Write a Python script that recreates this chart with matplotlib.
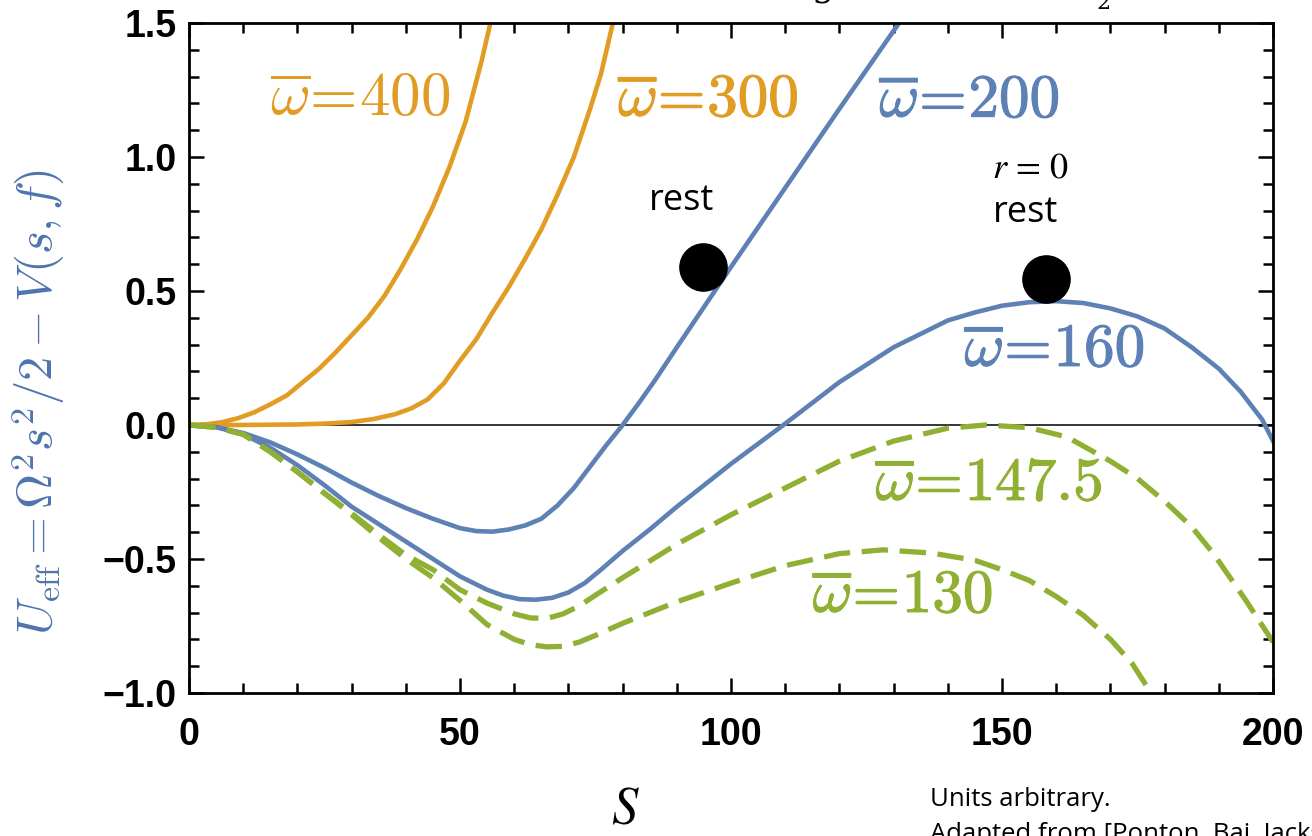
import matplotlib
matplotlib.use("Agg")
import matplotlib.pyplot as plt
import matplotlib.patheffects as pe
from matplotlib.ticker import MultipleLocator

plt.rcParams["mathtext.fontset"] = "cm"

BLUE = "#5E81B5"
ORANGE = "#E19C24"
GREEN = "#8FB032"

# effective potential curves, one (s, U) list per omega-bar value
s_400 = [0, 3, 6, 9, 12, 15, 18, 21, 24, 27, 30, 33, 36, 39, 42, 45, 48, 51, 54, 55.6]
u_400 = [0, 0.002, 0.01, 0.025, 0.047, 0.077, 0.11, 0.16, 0.21, 0.27, 0.335, 0.40, 0.48,
         0.58, 0.69, 0.815, 0.96, 1.13, 1.36, 1.5]

s_300 = [0, 10, 20, 25, 30, 34, 38, 41, 44, 47, 50, 53, 56, 59, 62, 65, 68, 71, 74, 76, 78.2]
u_300 = [0, 0.0, 0.002, 0.005, 0.011, 0.022, 0.04, 0.062, 0.095, 0.155, 0.24, 0.32, 0.42,
         0.515, 0.62, 0.73, 0.86, 1.0, 1.18, 1.31, 1.5]

s_200 = [0, 5, 10, 15, 20, 25, 30, 35, 40, 45, 50, 53, 56, 59, 62, 65, 68, 71, 74, 77, 80,
         83, 86, 90, 100, 110, 120, 131]
u_200 = [0, -0.008, -0.03, -0.065, -0.11, -0.16, -0.215, -0.265, -0.31, -0.35, -0.385, -0.396,
         -0.398, -0.39, -0.375, -0.35, -0.30, -0.235, -0.155, -0.075, 0.0,
         0.082, 0.168, 0.29, 0.59, 0.885, 1.18, 1.5]

s_160 = [0, 5, 10, 15, 20, 25, 30, 35, 40, 45, 50, 55, 58, 61, 64, 67, 70, 73, 76, 80, 85,
         90, 100, 110, 120, 130, 140, 145, 150, 155, 160, 165, 170, 175, 180, 185, 190,
         194, 198, 200]
u_160 = [0, -0.008, -0.035, -0.085, -0.15, -0.225, -0.305, -0.37, -0.435, -0.50, -0.565,
         -0.615, -0.637, -0.65, -0.652, -0.645, -0.625, -0.59, -0.54, -0.47, -0.39,
         -0.305, -0.145, 0.005, 0.16, 0.29, 0.39, 0.42, 0.445, 0.458, 0.462, 0.455, 0.435,
         0.405, 0.36, 0.29, 0.21, 0.125, 0.02, -0.06]

s_147 = [0, 5, 10, 15, 20, 25, 30, 35, 40, 45, 50, 55, 60, 63, 66, 69, 72, 75, 80, 90, 100,
         110, 120, 130, 140, 147, 155, 162, 170, 175, 180, 185, 189, 195, 200]
u_147 = [0, -0.009, -0.035, -0.1, -0.175, -0.255, -0.33, -0.41, -0.485, -0.54, -0.615,
         -0.665, -0.705, -0.72, -0.722, -0.705, -0.675, -0.635, -0.57, -0.445, -0.335,
         -0.235, -0.135, -0.06, -0.012, 0.0, -0.01, -0.045, -0.135, -0.2, -0.285, -0.38,
         -0.48, -0.655, -0.81]

s_130 = [0, 5, 10, 15, 20, 25, 30, 35, 40, 45, 50, 55, 60, 63, 66, 69, 72, 75, 80, 90, 100,
         110, 120, 128, 137, 145, 150, 155, 160, 165, 170, 174, 177.5]
u_130 = [0, -0.009, -0.035, -0.1, -0.175, -0.255, -0.335, -0.42, -0.50, -0.57, -0.655,
         -0.745, -0.80, -0.82, -0.828, -0.826, -0.81, -0.785, -0.74, -0.66, -0.59, -0.525,
         -0.48, -0.466, -0.478, -0.505, -0.54, -0.58, -0.64, -0.71, -0.80, -0.89, -1.0]

curve_labels = [r"$\overline{\omega}\!=\!400$", r"$\overline{\omega}\!=\!\mathbf{300}$",
                r"$\overline{\omega}\!=\!\mathbf{200}$", r"$\overline{\omega}\!=\!\mathbf{160}$",
                r"$\overline{\omega}\!=\!\mathbf{147.5}$", r"$\overline{\omega}\!=\!\mathbf{130}$"]
label_s = [31.5, 95.8, 144, 159.7, 147.6, 131.7]
label_u = [1.213, 1.213, 1.21, 0.28, -0.22, -0.638]
label_colors = [ORANGE, ORANGE, BLUE, BLUE, GREEN, GREEN]
label_bold = [False, True, True, True, True, True]

# balls resting on the potential
ball_s = [94.8, 158.1]
ball_u = [0.589, 0.544]

fig = plt.figure(figsize=(13.12, 8.36), dpi=100)
ax = fig.add_axes([0.1441, 0.1711, 0.8262, 0.8014])

ax.axhline(0, color="black", lw=1.1, zorder=1)

ax.plot(s_400, u_400, color=ORANGE, lw=3.3, zorder=2)
ax.plot(s_300, u_300, color=ORANGE, lw=3.3, zorder=2)
ax.plot(s_200, u_200, color=BLUE, lw=3.3, zorder=2)
ax.plot(s_160, u_160, color=BLUE, lw=3.3, zorder=2)
ax.plot(s_147, u_147, color=GREEN, lw=3.8, dashes=(5, 2.2), zorder=2)
ax.plot(s_130, u_130, color=GREEN, lw=3.8, dashes=(5, 2.2), zorder=2)

ax.plot(ball_s, ball_u, "o", color="black", ms=34, zorder=4, clip_on=False)

for txt, xs, ys, c, b in zip(curve_labels, label_s, label_u, label_colors, label_bold):
    t = ax.text(xs, ys, txt, color=c, fontsize=44, ha="center", va="center", zorder=3)
    if b:
        t.set_path_effects([pe.withStroke(linewidth=0.8, foreground=c)])

ax.text(90.8, 0.836, "rest", fontsize=26, family="Open Sans", ha="center", va="center")
ax.text(154.4, 0.79, "rest", fontsize=26, family="Open Sans", ha="center", va="center")
ax.text(155.3, 0.96, r"$r\,=\,0$", fontsize=26, math_fontfamily="stix",
        ha="center", va="center")

ax.set_xlim(0, 200)
ax.set_ylim(-1.0, 1.5)
ax.xaxis.set_major_locator(MultipleLocator(50))
ax.xaxis.set_minor_locator(MultipleLocator(10))
ax.yaxis.set_major_locator(MultipleLocator(0.5))
ax.yaxis.set_minor_locator(MultipleLocator(0.1))
ax.tick_params(which="both", direction="in", top=True, right=True, width=1.8)
ax.tick_params(which="major", length=11)
ax.tick_params(which="minor", length=7)
ax.tick_params(axis="x", pad=17)
ax.tick_params(axis="y", pad=9)
ax.set_xticks([0, 50, 100, 150, 200])
ax.set_xticklabels(["0", "50", "100", "150", "200"])
ax.set_yticks([-1.0, -0.5, 0.0, 0.5, 1.0, 1.5])
ax.set_yticklabels(["\u22121.0", "\u22120.5", "0.0", "0.5", "1.0", "1.5"])
for lab in ax.get_xticklabels() + ax.get_yticklabels():
    lab.set_fontfamily("Liberation Sans")
    lab.set_fontweight("bold")
    lab.set_fontsize(27)
for sp in ax.spines.values():
    sp.set_linewidth(2)

W, H = 1312, 836
fig.text(38 / W, 1 - 402 / H, r"$U_{\rm eff} = \Omega^2 s^2/2 - V(s,f)$",
         rotation=90, color="#4F74AE", fontsize=35, ha="center", va="center")
fig.text(625 / W, 1 - 808 / H, r"$S$", fontsize=38, math_fontfamily="stix",
         ha="center", va="center")
fig.text(930 / W, 1 - 800 / H, "Units arbitrary.", fontsize=18.5, family="Open Sans",
         ha="left", va="center")
fig.text(930 / W, 1 - 822 / H, "Adapted from [Ponton, Bai, Jackson]", fontsize=18.5,
         family="Open Sans", ha="left", va="top")
fig.text(823 / W, 1 + 4 / H, "g", fontsize=26, family="DejaVu Serif", ha="center",
         va="baseline")
fig.text(1103 / W, 1 - 14 / H, "2", fontsize=16, family="DejaVu Serif", ha="center",
         va="bottom")

fig.savefig("out.png", dpi=100)
